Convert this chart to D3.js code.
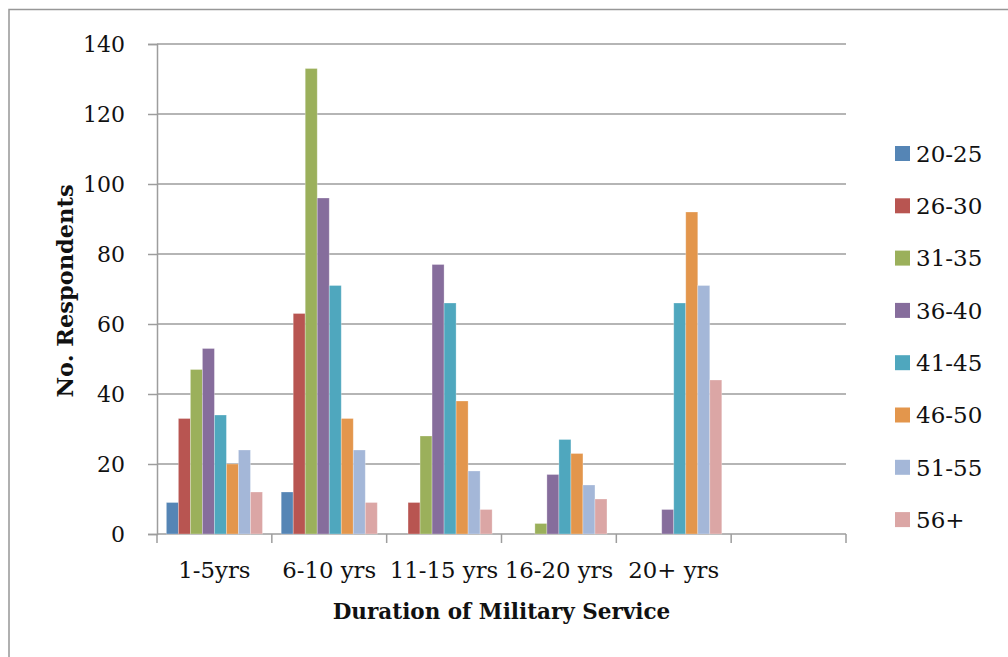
<!DOCTYPE html>
<html>
<head>
<meta charset="utf-8">
<script src="https://cdn.jsdelivr.net/npm/d3@7"></script>
<style>
  html, body { margin: 0; padding: 0; background: #fff; }
  svg { display: block; }
  text { font-family: "DejaVu Serif", "Liberation Serif", serif; fill: #111; }
</style>
</head>
<body>
<svg id="chart" width="1008" height="657"></svg>
<script>
// Duration of service groups (the last slot is left empty)
const categories = ["1-5yrs", "6-10 yrs", "11-15 yrs", "16-20 yrs", "20+ yrs", ""];
// Age groups of respondents
const ageGroups = ["20-25", "26-30", "31-35", "36-40", "41-45", "46-50", "51-55", "56+"];
const colors = ["#5585B5", "#B85551", "#9BB05B", "#866D9C", "#4FA7BE", "#E3964C", "#A4B7D8", "#DBA6A5"];

// Respondent counts per age group, one value per duration group
const age20_25 = [9, 12, 0, 0, 0, null];
const age26_30 = [33, 63, 9, 0, 0, null];
const age31_35 = [47, 133, 28, 3, 0, null];
const age36_40 = [53, 96, 77, 17, 7, null];
const age41_45 = [34, 71, 66, 27, 66, null];
const age46_50 = [20, 33, 38, 23, 92, null];
const age51_55 = [24, 24, 18, 14, 71, null];
const age56plus = [12, 9, 7, 10, 44, null];

const yTicks = [0, 20, 40, 60, 80, 100, 120, 140];

const seriesValues = [age20_25, age26_30, age31_35, age36_40, age41_45, age46_50, age51_55, age56plus];

const svg = d3.select("#chart");

// outer frame
svg.append("rect")
  .attr("x", 9).attr("y", 9.5)
  .attr("width", 1200).attr("height", 1200)
  .attr("fill", "none").attr("stroke", "#979797").attr("stroke-width", 1.5);

const plot = { left: 157, right: 846, top: 44, bottom: 534 };

const x0 = d3.scaleBand()
  .domain(d3.range(categories.length))
  .range([plot.left, plot.right])
  .paddingInner(0).paddingOuter(0);

const x1 = d3.scaleBand()
  .domain(ageGroups)
  .range([0, x0.bandwidth()])
  .paddingInner(0).paddingOuter(0.78);

const y = d3.scaleLinear().domain([0, 140]).range([plot.bottom, plot.top]);

const gridColor = "#9d9d9d";

// horizontal gridlines
svg.append("g")
  .selectAll("line")
  .data(yTicks.filter(d => d > 0))
  .join("line")
  .attr("x1", plot.left).attr("x2", plot.right)
  .attr("y1", d => y(d)).attr("y2", d => y(d))
  .attr("stroke", gridColor).attr("stroke-width", 1.5);

// y axis
const yAxis = svg.append("g")
  .attr("transform", `translate(${plot.left},0)`)
  .call(d3.axisLeft(y).tickValues(yTicks).tickSize(9).tickPadding(23).tickFormat(d3.format("d")));
yAxis.select(".domain").attr("stroke", gridColor).attr("stroke-width", 1.5);
yAxis.selectAll(".tick line").attr("stroke", gridColor).attr("stroke-width", 1.5);
yAxis.selectAll(".tick text")
  .attr("font-family", "DejaVu Serif")
  .attr("font-size", 22)
  .attr("fill", "#111")
  .attr("dy", "0.36em");

// x axis: ticks on category boundaries
const boundaries = d3.range(categories.length + 1).map(i =>
  i < categories.length ? x0(i) : x0(categories.length - 1) + x0.bandwidth());
svg.append("line")
  .attr("x1", plot.left).attr("x2", plot.right)
  .attr("y1", plot.bottom).attr("y2", plot.bottom)
  .attr("stroke", gridColor).attr("stroke-width", 1.5);
svg.append("g")
  .selectAll("line")
  .data(boundaries)
  .join("line")
  .attr("x1", d => d).attr("x2", d => d)
  .attr("y1", plot.bottom).attr("y2", plot.bottom + 9)
  .attr("stroke", gridColor).attr("stroke-width", 1.5);

// category labels
svg.append("g")
  .selectAll("text")
  .data(categories)
  .join("text")
  .attr("x", (d, i) => x0(i) + x0.bandwidth() / 2)
  .attr("y", 578)
  .attr("text-anchor", "middle")
  .attr("font-size", 22.8)
  .text(d => d);

// bars
const groups = svg.append("g")
  .selectAll("g")
  .data(ageGroups)
  .join("g")
  .attr("fill", (d, i) => colors[i]);

groups.selectAll("rect")
  .data((d, si) => seriesValues[si].map((v, ci) => ({ key: d, v, ci })).filter(o => o.v !== null && o.v > 0))
  .join("rect")
  .attr("x", o => x0(o.ci) + x1(o.key))
  .attr("width", x1.bandwidth())
  .attr("y", o => y(o.v))
  .attr("height", o => y(0) - y(o.v))
  .attr("stroke", "rgba(255,255,255,0.35)")
  .attr("stroke-width", 0.8);

// axis titles
svg.append("text")
  .attr("x", (plot.left + plot.right) / 2)
  .attr("y", 619)
  .attr("text-anchor", "middle")
  .attr("font-size", 21.5)
  .attr("font-weight", "bold")
  .text("Duration of Military Service");

svg.append("text")
  .attr("transform", "translate(73,291) rotate(-90)")
  .attr("text-anchor", "middle")
  .attr("font-size", 22.5)
  .attr("font-weight", "bold")
  .text("No. Respondents");

// legend
const legend = svg.append("g")
  .selectAll("g")
  .data(ageGroups)
  .join("g")
  .attr("transform", (d, i) => `translate(895,${146 + i * 52.3})`);
legend.append("rect")
  .attr("width", 15).attr("height", 15)
  .attr("fill", (d, i) => colors[i]);
legend.append("text")
  .attr("x", 21).attr("y", 7.5)
  .attr("dy", "0.36em")
  .attr("font-size", 23)
  .text(d => d);
</script>
</body>
</html>
